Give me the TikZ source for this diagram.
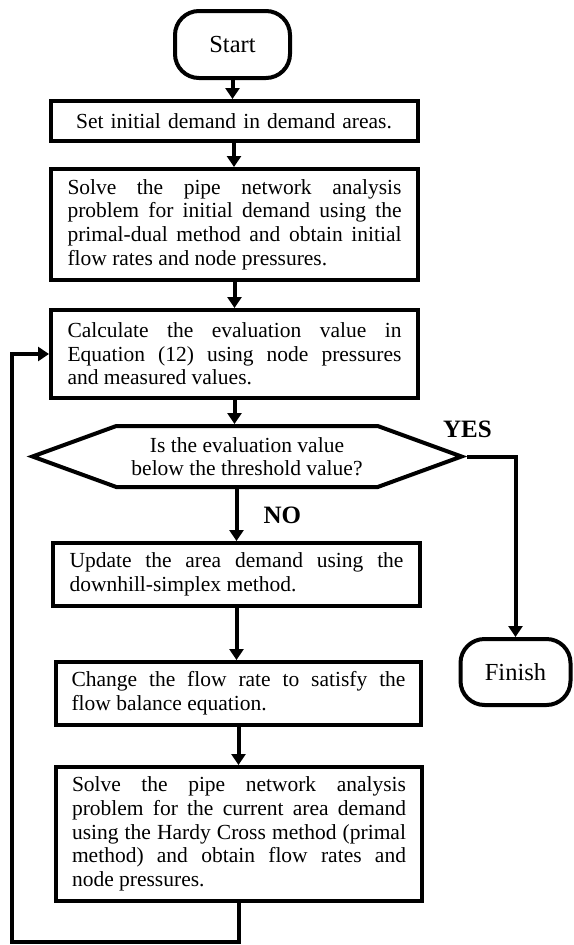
\documentclass[tikz,border=0pt]{standalone}
\usepackage{fontspec}
\setmainfont{Liberation Serif}
\newcommand{\boxfont}{\fontsize{21.5}{23.6}\selectfont\tolerance=10000\hyphenpenalty=10000}
\newcommand{\termfont}{\fontsize{24.5}{28}\selectfont}
\newcommand{\tagfont}{\fontsize{25}{28}\selectfont\bfseries}
\tikzstyle{block} = [draw, rectangle, line width=4pt, 
    minimum width=367pt, text width=334pt, align=justify, font=\boxfont]
\usetikzlibrary{arrows.meta,shapes.symbols}
\tikzstyle{term} = [draw, rectangle, rounded corners=24pt, line width=4pt, font=\termfont]
\tikzstyle{decision} = [draw, signal, signal to=west and east, signal pointer angle=40,
    line width=4pt, align=center, font=\boxfont]
\tikzstyle{tag} = [inner sep=0pt, font=\tagfont]
\tikzstyle{line} = [draw, line width=4pt, ->]

\begin{document}
\begin{tikzpicture}[node distance=0pt, >={Triangle[length=11pt,width=14pt]}] 
    \useasboundingbox (0,0) rectangle (573pt,-945pt);
    \node [term, minimum width=115pt, minimum height=67pt] (start) at (232.5pt,-44.5pt) {Start};
    \node [block, minimum height=40pt, align=center, xshift=1.5pt, yshift=-76.5pt, below of=start] (init) {Set initial demand in demand areas.};
    \node [block, minimum height=111pt, xshift=0.5pt, yshift=-103.5pt, below of=init] (primal) {Solve the pipe network analysis\linebreak problem for initial demand using the\linebreak primal-dual method and obtain initial\linebreak flow rates and node pressures.};
    \node [block, minimum height=88pt, yshift=-129.5pt, below of=primal] (evaluate) {Calculate the evaluation value in\linebreak Equation (12) using node pressures\linebreak and measured values.};
    \node [decision, minimum width=429pt, minimum height=61pt, xshift=12.5pt, yshift=-102.5pt, below of=evaluate] (check) {Is the evaluation value\\below the threshold value?};
    \node [block, minimum height=63pt, xshift=-10.5pt, yshift=-118pt, below of=check] (update) {Update the area demand using the\linebreak downhill-simplex method.};
    \node [block, minimum height=63pt, minimum width=365pt, xshift=2pt, yshift=-119pt, below of=update] (change) {Change the flow rate to satisfy the\linebreak flow balance equation.};
    \node [block, minimum height=134pt, minimum width=366pt, xshift=0.5pt, yshift=-140.5pt, below of=change] (hardy) {Solve the pipe network analysis\linebreak problem for the current area demand\linebreak using the Hardy Cross method (primal\linebreak method) and obtain flow rates and\linebreak node pressures.};
    \node [term, minimum width=110pt, minimum height=66pt, xshift=268.5pt, yshift=-215.5pt, below of=check] (finish) {Finish};
    \coordinate (back) at (12pt,-942pt);

    \draw [line] (start.south) -- (start.south |- init.north);
    \draw [line] (init.south) -- (init.south |- primal.north);
    \draw [line] (primal.south) -- (primal.south |- evaluate.north);
    \draw [line] (evaluate.south) -- (evaluate.south |- check.north);
    \draw [line] (update.north |- check.south) -- node [tag, right=25pt] {NO} (update.north);
    \draw [line] (update.south) -- (update.south |- change.north);
    \draw [line] (change.south) -- (change.south |- hardy.north);
    \draw [line] (check.east) -| node [tag, pos=0, above=17pt] {YES} (finish.north);
    \draw [line] (hardy.south) |- (back) |- (evaluate.west);
\end{tikzpicture}
\end{document}
